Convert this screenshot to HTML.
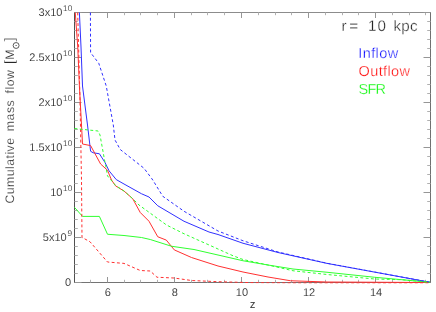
<!DOCTYPE html>
<html><head><meta charset="utf-8"><title>Cumulative mass flow</title>
<style>
html,body{margin:0;padding:0;background:#fff;}
body{width:436px;height:312px;overflow:hidden;}
svg{display:block;font-family:"Liberation Sans",sans-serif;}
</style></head><body>
<svg width="436" height="312" viewBox="0 0 436 312">
<defs><clipPath id="c"><rect x="74.0" y="12.0" width="357.0" height="271.6"/></clipPath></defs>
<rect width="436" height="312" fill="#fff"/>
<path d="M74.0 12.5H431.0" stroke="#8c8c8c"/><path d="M74.0 282.5H431.0" stroke="#747474"/><path d="M74.5 12.5V282.5" stroke="#505050"/><path d="M430.5 12.5V282.5" stroke="#707070"/>
<path d="M90.50 282.5v-2.7M90.50 12.5v2.7M124.50 282.5v-2.7M124.50 12.5v2.7M140.50 282.5v-2.7M140.50 12.5v2.7M157.50 282.5v-2.7M157.50 12.5v2.7M191.50 282.5v-2.7M191.50 12.5v2.7M207.50 282.5v-2.7M207.50 12.5v2.7M224.50 282.5v-2.7M224.50 12.5v2.7M258.50 282.5v-2.7M258.50 12.5v2.7M275.50 282.5v-2.7M275.50 12.5v2.7M291.50 282.5v-2.7M291.50 12.5v2.7M325.50 282.5v-2.7M325.50 12.5v2.7M342.50 282.5v-2.7M342.50 12.5v2.7M358.50 282.5v-2.7M358.50 12.5v2.7M392.50 282.5v-2.7M392.50 12.5v2.7M409.50 282.5v-2.7M409.50 12.5v2.7M425.50 282.5v-2.7M425.50 12.5v2.7M74.5 273.50h3.3M430.5 273.50h-3.3M74.5 264.50h3.3M430.5 264.50h-3.3M74.5 255.50h3.3M430.5 255.50h-3.3M74.5 246.50h3.3M430.5 246.50h-3.3M74.5 228.50h3.3M430.5 228.50h-3.3M74.5 219.50h3.3M430.5 219.50h-3.3M74.5 210.50h3.3M430.5 210.50h-3.3M74.5 201.50h3.3M430.5 201.50h-3.3M74.5 183.50h3.3M430.5 183.50h-3.3M74.5 174.50h3.3M430.5 174.50h-3.3M74.5 165.50h3.3M430.5 165.50h-3.3M74.5 156.50h3.3M430.5 156.50h-3.3M74.5 138.50h3.3M430.5 138.50h-3.3M74.5 129.50h3.3M430.5 129.50h-3.3M74.5 120.50h3.3M430.5 120.50h-3.3M74.5 111.50h3.3M430.5 111.50h-3.3M74.5 93.50h3.3M430.5 93.50h-3.3M74.5 84.50h3.3M430.5 84.50h-3.3M74.5 75.50h3.3M430.5 75.50h-3.3M74.5 66.50h3.3M430.5 66.50h-3.3M74.5 48.50h3.3M430.5 48.50h-3.3M74.5 39.50h3.3M430.5 39.50h-3.3M74.5 30.50h3.3M430.5 30.50h-3.3M74.5 21.50h3.3M430.5 21.50h-3.3" stroke="#b0b0b0" stroke-width="1" fill="none"/>
<path d="M107.50 282.5v-5.5M107.50 12.5v5.5M174.50 282.5v-5.5M174.50 12.5v5.5M241.50 282.5v-5.5M241.50 12.5v5.5M308.50 282.5v-5.5M308.50 12.5v5.5M375.50 282.5v-5.5M375.50 12.5v5.5M74.5 282.50h7M430.5 282.50h-7M74.5 237.50h7M430.5 237.50h-7M74.5 192.50h7M430.5 192.50h-7M74.5 147.50h7M430.5 147.50h-7M74.5 102.50h7M430.5 102.50h-7M74.5 57.50h7M430.5 57.50h-7M74.5 12.50h7M430.5 12.50h-7" stroke="#969696" stroke-width="1" fill="none"/>
<g clip-path="url(#c)">
<polyline points="79.40,12.50 81.00,47.00 82.50,86.00 87.50,125.00 90.60,151.25 93.10,152.75 99.40,153.75 105.00,162.50 109.00,170.75 116.25,179.60 124.00,184.00 141.50,193.75 149.00,197.00 157.75,205.75 184.00,221.25 209.00,232.00 218.00,234.50 243.00,243.25 278.00,252.50 327.00,263.40 430.00,282.25" fill="none" stroke="#3030ff" stroke-width="1.0" stroke-linejoin="round"/>
<polyline points="75.25,12.50 77.75,47.00 79.40,86.00 81.50,125.00 82.50,144.00 90.60,145.60 100.60,164.00 107.50,170.25 111.50,180.00 115.60,185.90 124.00,191.00 132.75,198.75 140.25,212.50 149.00,221.25 157.75,236.75 166.30,240.10 174.30,249.90 191.50,257.50 218.00,266.00 243.00,272.00 268.00,277.00 290.50,280.75 327.00,282.00 430.00,282.50" fill="none" stroke="#ff3030" stroke-width="1.0" stroke-linejoin="round"/>
<polyline points="74.50,207.40 82.50,216.40 99.40,216.40 107.50,234.25 124.00,235.50 141.50,237.50 150.25,239.50 171.50,246.25 194.00,249.50 218.00,255.00 243.00,260.75 268.00,265.00 293.00,269.00 327.00,272.25 374.50,277.25 430.00,282.25" fill="none" stroke="#30ff30" stroke-width="1.0" stroke-linejoin="round"/>
<polyline points="90.40,12.50 90.60,52.60 98.75,63.25 106.25,86.00 113.30,125.00 115.00,140.00 120.25,149.50 124.00,152.50 144.00,168.25 151.50,178.25 152.75,180.00 162.75,196.25 184.00,211.25 218.00,231.00 243.00,240.75 278.00,252.00 327.00,263.25 430.00,282.25" fill="none" stroke="#3030ff" stroke-width="1.0" stroke-dasharray="2.9 2.4" stroke-linejoin="round"/>
<polyline points="77.70,12.50 80.00,100.00 81.50,180.00 82.00,237.40 90.00,241.75 107.50,262.00 124.00,263.40 140.25,270.50 150.25,271.00 157.00,277.25 174.00,278.00 191.50,280.50 218.00,281.70 250.00,282.60 300.00,283.00 430.00,283.00" fill="none" stroke="#ff3030" stroke-width="1.0" stroke-dasharray="2.9 2.4" stroke-linejoin="round"/>
<polyline points="74.50,128.50 98.10,131.00 100.00,135.00 105.00,162.50 105.60,165.00 107.50,175.90 115.60,185.50 124.00,191.00 132.75,198.75 139.00,205.00 166.50,225.00 184.00,233.75 218.00,249.00 233.00,255.75 243.00,259.50 268.00,265.00 293.00,270.75 327.00,274.50 374.50,279.00 402.00,279.75 430.00,282.25" fill="none" stroke="#30ff30" stroke-width="1.0" stroke-dasharray="2.9 2.4" stroke-linejoin="round"/>
</g>
<g style="filter:opacity(1);will-change:transform;text-rendering:geometricPrecision;stroke:#fff;stroke-width:0.1px;paint-order:fill stroke">
<text x="71" y="286.1" text-anchor="end" font-size="11" fill="#262626">0</text>
<text x="66.7" y="241.4" text-anchor="end" font-size="11" letter-spacing="0" fill="#262626">5x10</text><text x="67.4" y="235.7" font-size="8.2" fill="#262626">9</text>
<text x="62.4" y="196.4" text-anchor="end" font-size="11" letter-spacing="0" fill="#262626">10</text><text x="63.1" y="190.7" font-size="8.2" fill="#262626">10</text>
<text x="62.4" y="151.4" text-anchor="end" font-size="11" letter-spacing="0" fill="#262626">1.5x10</text><text x="63.1" y="145.7" font-size="8.2" fill="#262626">10</text>
<text x="62.4" y="106.4" text-anchor="end" font-size="11" letter-spacing="0" fill="#262626">2x10</text><text x="63.1" y="100.7" font-size="8.2" fill="#262626">10</text>
<text x="62.4" y="61.4" text-anchor="end" font-size="11" letter-spacing="0" fill="#262626">2.5x10</text><text x="63.1" y="55.7" font-size="8.2" fill="#262626">10</text>
<text x="62.4" y="16.4" text-anchor="end" font-size="11" letter-spacing="0" fill="#262626">3x10</text><text x="63.1" y="10.7" font-size="8.2" fill="#262626">10</text>
<text x="107.8" y="295.8" text-anchor="middle" font-size="11" fill="#262626">6</text>
<text x="174.8" y="295.8" text-anchor="middle" font-size="11" fill="#262626">8</text>
<text x="241.9" y="295.8" text-anchor="middle" font-size="11" fill="#262626">10</text>
<text x="309.0" y="295.8" text-anchor="middle" font-size="11" fill="#262626">12</text>
<text x="376.1" y="295.8" text-anchor="middle" font-size="11" fill="#262626">14</text>
<text x="252.7" y="307.6" text-anchor="middle" font-size="11.5" fill="#262626">z</text>
<text transform="translate(14.3,203.5) rotate(-90)" font-size="12.3" stroke-width="0.22" letter-spacing="0.45" fill="#262626">Cumulative</text>
<text transform="translate(14.3,131.2) rotate(-90)" font-size="12.3" stroke-width="0.22" letter-spacing="0.5" fill="#262626">mass</text>
<text transform="translate(14.3,93.4) rotate(-90)" font-size="12.3" stroke-width="0.22" letter-spacing="0.5" fill="#262626">flow</text>
<text transform="translate(13.9,63.9) rotate(-90)" font-size="13.7" stroke-width="0.22" fill="#262626">[</text>
<text transform="translate(14.3,59.8) rotate(-90)" font-size="12.3" stroke-width="0.22" fill="#262626">M</text>
<circle cx="16.1" cy="45.5" r="2.95" fill="none" stroke="#262626" stroke-width="0.75"/><circle cx="16.1" cy="45.5" r="0.6" fill="#262626" stroke="none"/>
<text transform="translate(13.9,41.3) rotate(-90)" font-size="13.7" stroke-width="0.22" fill="#262626">]</text>
<text x="341.6" y="30.9" font-size="15.2" stroke-width="0.3" fill="#262626" textLength="16.4" lengthAdjust="spacing">r=</text>
<text x="368.1" y="30.9" font-size="15.2" stroke-width="0.3" fill="#262626" textLength="17.8" lengthAdjust="spacing">10</text>
<text x="393.4" y="30.9" font-size="15.2" stroke-width="0.3" fill="#262626" textLength="24.2" lengthAdjust="spacing">kpc</text>
<text x="358.2" y="57.6" font-size="14.5" stroke-width="0.3" fill="#0808ff" textLength="40" lengthAdjust="spacing">Inflow</text>
<text x="358.6" y="75.9" font-size="14.5" stroke-width="0.3" fill="#ff0808" textLength="51.4" lengthAdjust="spacing">Outflow</text>
<text x="358.6" y="93.9" font-size="14.5" stroke-width="0.3" fill="#08f808" textLength="27.4" lengthAdjust="spacing">SFR</text>
</g>
</svg>
</body></html>
